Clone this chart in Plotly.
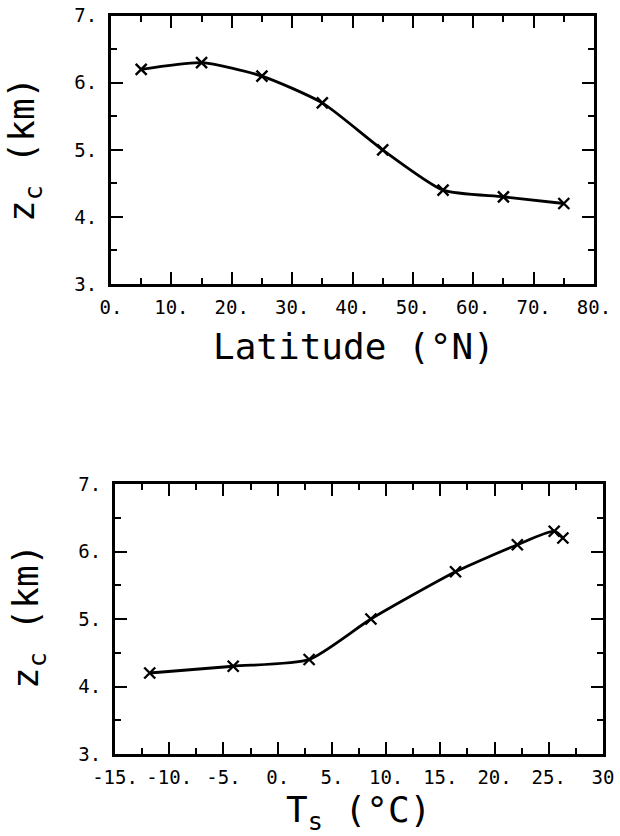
import plotly.graph_objects as go

# Data
latitude = [5, 15, 25, 35, 45, 55, 65, 75]
zc_lat = [6.2, 6.3, 6.1, 5.7, 5.0, 4.4, 4.3, 4.2]
ts = [26.3, 25.5, 22.1, 16.4, 8.6, 2.9, -4.1, -11.8]
zc_ts = [6.2, 6.3, 6.1, 5.7, 5.0, 4.4, 4.3, 4.2]

y_ticks = [3, 4, 5, 6, 7]
y_ticktext = ["3.", "4.", "5.", "6.", "7."]
lat_ticks = [0, 10, 20, 30, 40, 50, 60, 70, 80]
lat_ticktext = ["0.", "10.", "20.", "30.", "40.", "50.", "60.", "70.", "80."]
ts_ticks = [-15, -10, -5, 0, 5, 10, 15, 20, 25, 30]
ts_ticktext = ["-15.", "-10.", "-5.", "0.", "5.", "10.", "15.", "20.", "25.", "30"]

W, H = 620, 836
MONO = "DejaVu Sans Mono"
TICKFONT = dict(family=MONO, size=19, color="black")
TITLEFONT = dict(family=MONO, size=36, color="black")

def px(x):
    return x / W

def py(y):
    return 1 - y / H

fig = go.Figure()
line_style = dict(color="black", width=2.8, shape="spline", smoothing=0.6)
marker_style = dict(symbol="x-thin", size=11, line=dict(color="black", width=2.4))

fig.add_trace(go.Scatter(x=latitude, y=zc_lat, mode="lines+markers",
                         line=line_style, marker=marker_style,
                         xaxis="x", yaxis="y", showlegend=False))
fig.add_trace(go.Scatter(x=ts, y=zc_ts, mode="lines+markers",
                         line=line_style, marker=marker_style,
                         xaxis="x2", yaxis="y2", showlegend=False))

def axis_common(**kw):
    d = dict(showline=True, linecolor="black", linewidth=3, mirror="ticks",
             ticks="inside", ticklen=12, tickwidth=2.2, tickcolor="black",
             showgrid=False, zeroline=False, tickfont=TICKFONT,
             tickmode="array", automargin=False, fixedrange=True)
    d.update(kw)
    return d

def minor(dt):
    return dict(ticks="inside", ticklen=6, tickwidth=2.2, tickcolor="black",
                tickmode="linear", tick0=0, dtick=dt, showgrid=False)

fig.update_layout(
    width=W, height=H,
    margin=dict(l=0, r=0, t=0, b=0),
    paper_bgcolor="white", plot_bgcolor="white",
    xaxis=axis_common(domain=[px(111), px(594)], range=[0, 80],
                      tickvals=lat_ticks, ticktext=lat_ticktext, anchor="y",
                      ticklabelstandoff=4, minor=minor(5)),
    yaxis=axis_common(domain=[py(284), py(15.7)], range=[3, 7],
                      tickvals=y_ticks, ticktext=y_ticktext, anchor="x",
                      ticklabelstandoff=7, minor=minor(0.5)),
    xaxis2=axis_common(domain=[px(115), px(603)], range=[-15, 30],
                       tickvals=ts_ticks, ticktext=ts_ticktext, anchor="y2",
                       ticklabelstandoff=4, minor=minor(2.5)),
    yaxis2=axis_common(domain=[py(754), py(484)], range=[3, 7],
                       tickvals=y_ticks, ticktext=y_ticktext, anchor="x2",
                       ticklabelstandoff=7, minor=minor(0.5)),
    annotations=[
        dict(text="Latitude (°N)", x=px(354), y=py(346), xref="paper", yref="paper",
             xanchor="center", yanchor="middle", showarrow=False, font=TITLEFONT),
        dict(text="z<sub>c</sub> (km)", x=px(24), y=py(150), xref="paper", yref="paper",
             xanchor="center", yanchor="middle", showarrow=False, font=TITLEFONT,
             textangle=-90),
        dict(text="T<sub>s</sub> (°C)", x=px(359), y=py(812), xref="paper", yref="paper",
             xanchor="center", yanchor="middle", showarrow=False, font=TITLEFONT),
        dict(text="z<sub>c</sub> (km)", x=px(28), y=py(617), xref="paper", yref="paper",
             xanchor="center", yanchor="middle", showarrow=False, font=TITLEFONT,
             textangle=-90),
    ],
)

fig.write_html("out.html")
